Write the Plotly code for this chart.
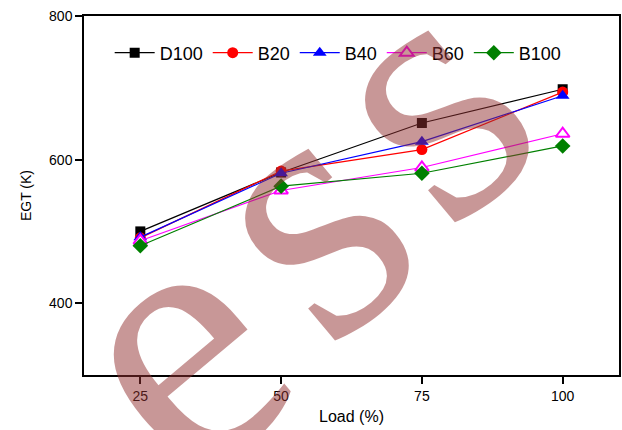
import plotly.graph_objects as go

load = [25, 50, 75, 100]
series_names = ["D100", "B20", "B40", "B60", "B100"]
d100 = [500, 582, 651, 698]
b20 = [491, 584, 614, 694]
b40 = [492, 581, 625, 689]
b60 = [487, 557, 589, 636]
b100 = [480, 563, 581, 619]
y_ticks = [400, 600, 800]
x_ticks = [25, 50, 75, 100]

# watermark letters visible behind the chart
watermark_letters = ["e", "s", "s"]
watermark_pos = [(0.1583, 0.0864), (0.4060, 0.4540), (0.6294, 0.7827)]

values = [d100, b20, b40, b60, b100]
colors = ["#000000", "#FF0000", "#0000FF", "#FF00FF", "#008000"]
symbols = ["square", "circle", "triangle-up", "triangle-up", "diamond"]
sizes = [10, 11, 12, 12, 12]
fills = ["#000000", "#FF0000", "#0000FF", "#FFFFFF", "#008000"]

fig = go.Figure()
for name, vals, c, s, sz, f in zip(series_names, values, colors, symbols, sizes, fills):
    fig.add_trace(go.Scatter(
        x=load, y=vals, name=name, mode="lines+markers",
        line=dict(color=c, width=1.2),
        marker=dict(symbol=s, size=sz, color=f, line=dict(color=c, width=2 if f == "#FFFFFF" else 0)),
    ))

axis_common = dict(
    showline=True, linecolor="#000000", linewidth=1.5, mirror=True,
    ticks="outside", ticklen=7, tickwidth=1.5, tickcolor="#000000",
    showgrid=False, zeroline=False,
    tickfont=dict(family="Arial, Liberation Sans, sans-serif", size=14, color="#000000"),
)

fig.update_xaxes(
    range=[15, 110], tickvals=x_ticks,
    title=dict(text="Load (%)", font=dict(family="Arial, Liberation Sans, sans-serif", size=16, color="#000000"), standoff=8),
    **axis_common,
)
fig.update_yaxes(
    range=[300, 800], tickvals=y_ticks,
    title=dict(text="EGT (K)", font=dict(family="Arial, Liberation Sans, sans-serif", size=14, color="#000000"), standoff=14),
    **axis_common,
)

annotations = [
    dict(
        text=ch, xref="paper", yref="paper", x=px, y=py,
        xanchor="center", yanchor="middle", showarrow=False, textangle=-40,
        font=dict(family="Liberation Serif, Times New Roman, serif", size=370, color="rgba(145,47,47,0.5)"),
    )
    for ch, (px, py) in zip(watermark_letters, watermark_pos)
]

fig.update_layout(
    width=622, height=430,
    margin=dict(l=84, r=1, t=16, b=55),
    paper_bgcolor="#FFFFFF", plot_bgcolor="#FFFFFF",
    font=dict(family="Arial, Liberation Sans, sans-serif", color="#000000"),
    showlegend=True,
    legend=dict(
        orientation="h", x=0.048, y=0.897, xanchor="left", yanchor="middle",
        bgcolor="rgba(0,0,0,0)", font=dict(size=18, family="Arial, Liberation Sans, sans-serif"),
        itemwidth=40, tracegroupgap=0,
    ),
    annotations=annotations,
)

fig.write_html(
    "out.html",
    config={"displayModeBar": False},
    post_script="document.body.style.margin='0';document.body.style.overflow='hidden';",
)
